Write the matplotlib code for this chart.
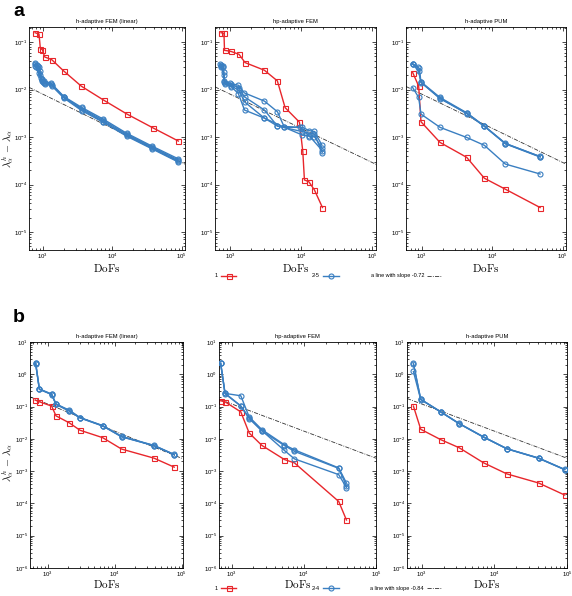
import numpy as np
import matplotlib
matplotlib.use("Agg")
import matplotlib.pyplot as plt
from matplotlib.lines import Line2D
from matplotlib.ticker import LogLocator, NullFormatter, LogFormatterSciNotation

plt.rcParams['font.family'] = ['Liberation Sans', 'DejaVu Sans']
plt.rcParams['mathtext.fontset'] = 'cm'

RED = '#e8262b'
BLUE = '#3a7fc1'

# ---------------- data: row a ----------------
titles_a = ["h-adaptive FEM (linear)", "hp-adaptive FEM", "h-adaptive PUM"]
titles_b = titles_a

# a1: h-adaptive FEM (linear)
a1_red_x = [776, 885, 925, 989, 1069, 1346, 2003, 3597, 7550, 16340, 38270, 89500]
a1_red_y = [0.157, 0.147, 0.0725, 0.069, 0.0484, 0.0426, 0.0246, 0.01175, 0.00597, 0.00304, 0.00157, 0.000824]
a1_blue_x = [
    [774, 836, 885, 968, 1044, 1303, 2023, 3640, 7380, 16180, 37760, 88500],
    [774, 850, 900, 975, 1060, 1320, 2023, 3640, 7380, 16180, 37760, 88500],
    [780, 865, 915, 990, 1079, 1346, 2023, 3640, 7380, 16180, 37760, 88500],
    [790, 870, 930, 1000, 1090, 1346, 2023, 3640, 7380, 16180, 37760, 88500],
]
a1_blue_y = [
    [0.0365, 0.033, 0.030, 0.0165, 0.0148, 0.0138, 0.0071, 0.0042, 0.00240, 0.00120, 0.00064, 0.00035],
    [0.034, 0.031, 0.024, 0.0155, 0.0140, 0.0130, 0.0069, 0.0040, 0.00225, 0.00114, 0.00061, 0.00033],
    [0.032, 0.028, 0.0200, 0.0150, 0.0135, 0.0125, 0.0068, 0.0038, 0.00212, 0.00108, 0.00058, 0.00031],
    [0.030, 0.022, 0.0175, 0.0145, 0.0132, 0.0120, 0.0066, 0.0036, 0.00205, 0.00104, 0.00056, 0.00030],
]

# a2: hp-adaptive FEM
a2_red_x = [747, 822, 837, 1023, 1339, 1627, 3040, 4634, 5952, 9465, 10560, 11130, 12830, 15390, 19950]
a2_red_y = [0.157, 0.152, 0.0668, 0.0637, 0.0551, 0.0369, 0.0255, 0.0152, 0.00416, 0.00206,
            0.000497, 0.000125, 0.000115, 7.7e-5, 3.29e-5]
a2_blue_x = [
    [725, 800, 830, 1000, 1310, 1590, 3050, 4650, 5820, 10450, 13090, 15400, 19550],
    [735, 805, 835, 1020, 1320, 1600, 3050, 4650, 9680, 13090, 15400, 19800],
    [745, 810, 840, 1030, 1330, 1600, 3050, 4650, 10450, 15400, 19800],
    [755, 820, 845, 1040, 1310, 1600, 3050, 5820, 10450, 13090, 19800],
]
a2_blue_y = [
    [0.035, 0.032, 0.015, 0.0135, 0.0123, 0.0085, 0.0057, 0.0034, 0.0016, 0.0016, 0.00136, 0.00131, 0.00068],
    [0.033, 0.030, 0.0145, 0.013, 0.011, 0.0070, 0.0037, 0.0017, 0.0016, 0.00102, 0.00102, 0.00058],
    [0.031, 0.023, 0.0135, 0.012, 0.0097, 0.0055, 0.0025, 0.0017, 0.0013, 0.00115, 0.00047],
    [0.030, 0.020, 0.0130, 0.0115, 0.0082, 0.0037, 0.0025, 0.0016, 0.0011, 0.00105, 0.00052],
]

# a3: h-adaptive PUM
a3_red_x = [745, 906, 977, 1819, 4345, 7730, 15350, 47640]
a3_red_y = [0.0228, 0.0118, 0.0021, 0.00077, 0.000374, 0.000136, 7.98e-5, 3.29e-5]
a3_blue_x = [
    [745, 877, 977, 1819, 4345, 7730, 15350, 47640],
    [745, 906, 977, 1819, 4345, 7730, 15350, 47640],
    [745, 926, 977, 1819, 4345, 7730, 15350, 47640],
    [745, 906, 977, 1819, 4345, 7730, 15350, 47640],
]
a3_blue_y = [
    [0.0351, 0.0299, 0.0145, 0.0068, 0.00324, 0.0017, 0.000737, 0.000387],
    [0.0345, 0.0247, 0.0143, 0.0064, 0.0032, 0.0017, 0.00073, 0.00039],
    [0.034, 0.028, 0.014, 0.0066, 0.0031, 0.00168, 0.00072, 0.00038],
    [0.0110, 0.0068, 0.00304, 0.0016, 0.00098, 0.00067, 0.00027, 0.000167],
]

# ---------------- data: row b ----------------
b1_red_x = [650, 752, 1147, 1331, 2104, 3038, 6625, 12700, 38640, 77600]
b1_red_y = [0.159, 0.141, 0.1035, 0.0517, 0.0313, 0.0185, 0.0109, 0.00483, 0.00253, 0.00133]
b1_blue_x = [[662, 752, 1147, 1331, 2104, 3038, 6625, 12700, 38640, 77600]] * 3
b1_blue_y = [
    [2.21, 0.351, 0.245, 0.119, 0.0776, 0.0458, 0.0258, 0.0120, 0.00628, 0.0033],
    [2.15, 0.345, 0.235, 0.122, 0.074, 0.0450, 0.0255, 0.0115, 0.0062, 0.00325],
    [2.18, 0.34, 0.24, 0.116, 0.072, 0.0445, 0.025, 0.0118, 0.0061, 0.0032],
]

b2_red_x = [701, 806, 1334, 1742, 2618, 5370, 7400, 30400, 38900]
b2_red_y = [0.151, 0.1406, 0.0685, 0.0152, 0.00625, 0.00229, 0.0018, 0.000115, 3.07e-5]
b2_blue_x = [[701, 806, 1334, 1742, 2618, 5370, 7400, 30400, 38900]] * 3
b2_blue_y = [
    [2.21, 0.256, 0.216, 0.048, 0.0193, 0.00656, 0.00457, 0.00126, 0.00043],
    [2.20, 0.250, 0.103, 0.0425, 0.0175, 0.0062, 0.0041, 0.00122, 0.00035],
    [2.18, 0.260, 0.105, 0.045, 0.018, 0.00437, 0.0024, 0.00078, 0.00031],
]

b3_red_x = [768, 969, 1828, 3270, 7100, 14860, 40600, 92900]
b3_red_y = [0.1035, 0.0198, 0.00944, 0.00532, 0.00181, 0.000822, 0.00043, 0.000182]
b3_blue_x = [[768, 969, 1828, 3270, 7100, 14860, 40600, 92900]] * 3
b3_blue_y = [
    [2.21, 0.167, 0.0689, 0.0298, 0.0114, 0.00494, 0.00253, 0.00112],
    [1.22, 0.165, 0.068, 0.0295, 0.0113, 0.0049, 0.0025, 0.00111],
    [2.10, 0.168, 0.0685, 0.030, 0.0115, 0.00497, 0.00255, 0.00113],
]

# reference lines  y = C * x^slope
slope_a, logC_a = -0.72, 0.064
slope_b, logC_b = -0.84, 1.60
legend_a = ["1", "2-5", "a line with slope -0.72"]
legend_b = ["1", "2-4", "a line with slope -0.84"]

# ---------------- figure ----------------
W, H = 572, 596
fig = plt.figure(figsize=(W / 100, H / 100), dpi=100)


def px_axes(x0, x1, y0, y1):
    return fig.add_axes([x0 / W, 1 - y1 / H, (x1 - x0) / W, (y1 - y0) / H])


axes_a = [px_axes(29, 185, 27, 250), px_axes(215, 376, 27, 250), px_axes(406, 566, 27, 250)]
axes_b = [px_axes(30, 183, 342, 568), px_axes(219, 376, 342, 568), px_axes(407, 567, 342, 568)]
xlims_a = [(635, 1.115e5), (615, 1.13e5), (599, 1.11e5)]
xlims_b = [(545, 1.05e5), (665, 1.0e5), (627, 1.0e5)]
ylim_a = (4.2e-6, 0.207)
ylim_b = (1e-6, 10)

panels_a = [(a1_red_x, a1_red_y, a1_blue_x, a1_blue_y),
            (a2_red_x, a2_red_y, a2_blue_x, a2_blue_y),
            (a3_red_x, a3_red_y, a3_blue_x, a3_blue_y)]
panels_b = [(b1_red_x, b1_red_y, b1_blue_x, b1_blue_y),
            (b2_red_x, b2_red_y, b2_blue_x, b2_blue_y),
            (b3_red_x, b3_red_y, b3_blue_x, b3_blue_y)]

mk = dict(markersize=3.6, markeredgewidth=0.8, markerfacecolor='none', linewidth=1.0)
DASH = (0, (5, 1.5, 1, 1.5))


def style(ax, xl, yl, title, xlab_y):
    ax.set_xscale('log')
    ax.set_yscale('log')
    ax.set_xlim(*xl)
    ax.set_ylim(*yl)
    ax.xaxis.set_major_locator(LogLocator(base=10, numticks=20))
    ax.yaxis.set_major_locator(LogLocator(base=10, numticks=20))
    ax.xaxis.set_minor_locator(LogLocator(base=10, subs=np.arange(2, 10), numticks=20))
    ax.yaxis.set_minor_locator(LogLocator(base=10, subs=np.arange(2, 10), numticks=20))
    ax.xaxis.set_minor_formatter(NullFormatter())
    ax.yaxis.set_minor_formatter(NullFormatter())
    ax.xaxis.set_major_formatter(LogFormatterSciNotation())
    ax.yaxis.set_major_formatter(LogFormatterSciNotation())
    ax.tick_params(which='both', direction='in', top=True, right=True, width=0.5, labelsize=4.3)
    ax.tick_params(which='major', length=3, pad=1.5)
    ax.tick_params(which='minor', length=1.6)
    for s in ax.spines.values():
        s.set_linewidth(0.6)
    ax.set_title(title, fontsize=4.2, pad=3)
    ax.set_xlabel(r'$\mathrm{DoFs}$', fontsize=8)
    ax.xaxis.set_label_coords(0.5, xlab_y)


def draw_row(axes, panels, xlims, ylim, titles, slope, logC, xlab_y):
    for ax, (rx, ry, bx, by), xl, t in zip(axes, panels, xlims, titles):
        xr = np.array(xl)
        ax.plot(xr, 10 ** logC * xr ** slope, linestyle=DASH,
                color='#333333', linewidth=0.6, zorder=1)
        ax.plot(rx, ry, color=RED, marker='s', zorder=2, **mk)
        for x, y in zip(bx, by):
            ax.plot(x, y, color=BLUE, marker='o', zorder=3, **mk)
        style(ax, xl, ylim, t, xlab_y)


draw_row(axes_a, panels_a, xlims_a, ylim_a, titles_a, slope_a, logC_a, -12 / 223)
draw_row(axes_b, panels_b, xlims_b, ylim_b, titles_b, slope_b, logC_b, -10 / 226)

ylab = r'$\lambda_\alpha^h\,-\,\lambda_\alpha$'
axes_a[0].set_ylabel(ylab, fontsize=7.4)
axes_a[0].yaxis.set_label_coords(-13.5 / 156, 0.453)
axes_b[0].set_ylabel(ylab, fontsize=7.4)
axes_b[0].yaxis.set_label_coords(-14.5 / 153, 0.465)

fig.text(13 / W, 1 - 11 / H, 'a', fontsize=14, fontweight='bold', va='center', ha='left')
fig.text(13 / W, 1 - 318 / H, 'b', fontsize=14, fontweight='bold', va='center', ha='left')


def legend_row(py, labels):
    y = 1 - py / H
    items = [(218, 221, 236, labels[0], dict(color=RED, marker='s')),
             (320, 323, 339, labels[1], dict(color=BLUE, marker='o')),
             (424, 427, 442, labels[2], None)]
    for tx, l0, l1, lab, st in items:
        fig.text(tx / W, y, lab, fontsize=4.0, ha='right', va='center')
        if st is not None:
            fig.add_artist(Line2D([l0 / W, (l0 + l1) / 2 / W, l1 / W], [y, y, y],
                                  transform=fig.transFigure, markevery=[1],
                                  color=st['color'], marker=st['marker'], **mk))
        else:
            fig.add_artist(Line2D([l0 / W, l1 / W], [y, y], transform=fig.transFigure,
                                  linestyle=DASH, color='#333333', linewidth=0.6))


legend_row(275.7, legend_a)
legend_row(588.3, legend_b)

fig.savefig('out.png', dpi=100)
